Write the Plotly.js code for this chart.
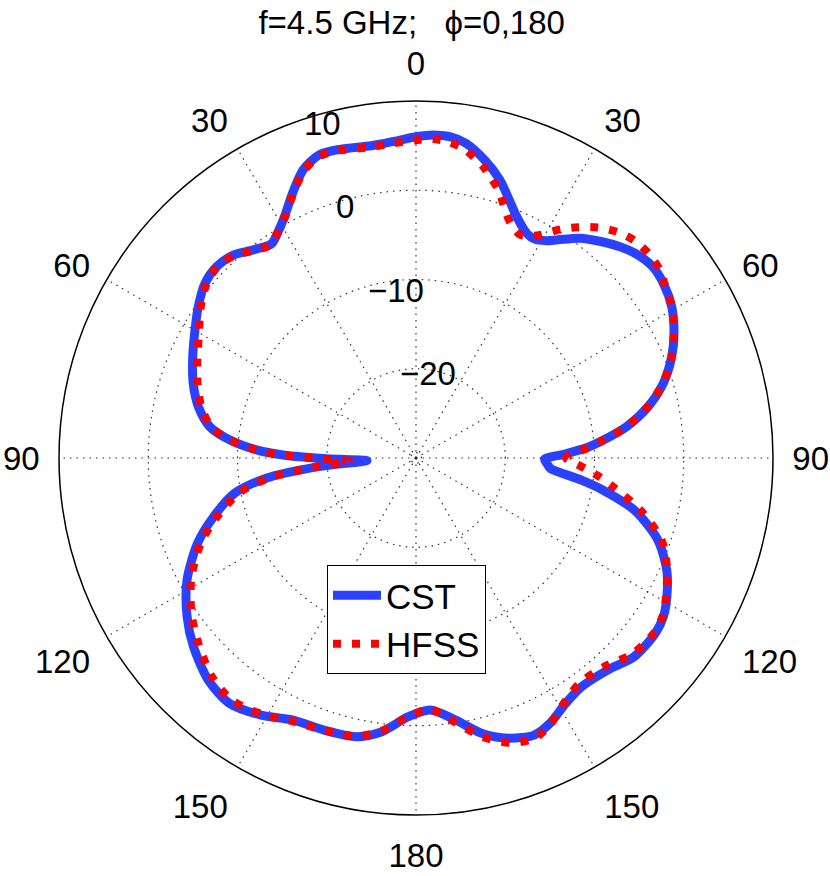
<!DOCTYPE html>
<html>
<head>
<meta charset="utf-8">
<script src="https://cdn.plot.ly/plotly-3.0.1.min.js"></script>
<style>
  html, body { margin: 0; padding: 0; background: #ffffff; }
  #chart { width: 830px; height: 876px; }
</style>
</head>
<body>
<div id="chart"></div>
<script>
// Angle (deg, clockwise from top; 180..360 = left half, labelled 150..30) and gain (dB)
const cstTheta = [0, 3, 6, 9, 13, 16.8, 19.5, 22.65, 26.2, 28.5, 31, 33, 36.7, 40.5, 44, 47.5, 51, 54.8, 59.4, 64.2, 68.4, 73.2, 77.5, 81.5, 84.5, 86.5, 88.5, 90.5, 92.5, 94.4, 97.6, 99.5, 103.4, 108.7, 114.1, 118.9, 122.5, 126.2, 132.3, 137.8, 144.1, 148.6, 153.2, 156.9, 161.8, 166.6, 171.4, 176.8, 181.7, 187.1, 192.2, 198.7, 205.3, 211.1, 217.3, 223.1, 229.7, 235.3, 242, 248.7, 253.8, 259, 262.3, 264.9, 267, 269.5, 271.3, 272.9, 275.5, 278.6, 283.3, 288.5, 294.4, 300.1, 304.8, 309.6, 313.8, 318, 322, 326, 328.4, 331.4, 335, 338.6, 342.2, 346.1, 351.8, 355.7, 360];
const cstGain  = [6.0, 6.25, 6.2, 5.7, 4.25, 2.54, 0.95, -0.7, -1.93, -2.1, -1.59, -0.85, 0.72, 1.9, 2.9, 3.7, 4.1, 3.93, 3.29, 2.11, 0.81, -1.06, -3.35, -6.13, -8.9, -10.8, -13.3, -15.6, -15.3, -14.9, -11.3, -9.0, -4.87, -1.4, 0.78, 2.11, 2.9, 3.23, 3.07, 2.04, 1.64, 2.2, 3.3, 3.75, 3.05, 1.71, -0.31, -1.72, -1.0, 0.9, 1.95, 2.18, 2.46, 3.64, 4.54, 4.07, 2.69, 1.2, -0.95, -3.74, -6.38, -9.28, -13.05, -19.05, -24.5, -20.0, -15.1, -12.1, -9.06, -6.65, -4.94, -3.68, -2.53, -1.38, -0.29, 0.69, 0.96, 0.6, -0.41, -1.05, -0.4, 0.79, 2.73, 4.67, 5.65, 5.63, 5.35, 5.54, 6.0];

const hfssTheta = [0, 3, 6, 9, 13, 14.7, 16.8, 18.9, 21, 23, 25, 27, 29.1, 32.2, 35.1, 38.2, 41.6, 44.9, 48.6, 52.4, 55, 59.4, 64.2, 68.4, 73.2, 77.5, 81.5, 84.5, 86.5, 88.5, 90, 93, 95.5, 98.3, 103.4, 108.7, 113.4, 118.9, 122.5, 126.2, 132.3, 137.8, 144.1, 148.6, 153.2, 157, 161.8, 166.6, 171.4, 176.8, 181.7, 187.1, 192.2, 198.7, 205.3, 211.1, 217.3, 223.1, 229.7, 235.3, 242, 248.7, 253.8, 259, 262.3, 264.9, 267, 269.5, 271.3, 272.9, 275.5, 278.6, 283.3, 288.5, 294.4, 300.1, 304.8, 309.6, 313.8, 318, 322, 325.6, 328.4, 331.4, 335, 338.6, 342.2, 346.1, 351.8, 355.7, 360];
const hfssGain  = [5.6, 5.8, 5.6, 5.0, 3.5, 2.6, 1.6, 0.16, -1.2, -2.0, -2.4, -2.1, -1.4, 0.28, 1.6, 2.87, 3.9, 4.5, 4.7, 4.5, 4.0, 3.3, 2.1, 0.8, -1.1, -3.4, -6.1, -8.9, -10.6, -12.4, -13.2, -11.4, -9.6, -7.7, -3.97, -0.9, 0.63, 2.0, 2.8, 3.1, 2.7, 1.5, 1.2, 2.0, 3.4, 4.1, 3.6, 2.1, 0.0, -1.8, -1.0, 0.8, 1.9, 2.2, 2.6, 3.5, 4.1, 3.5, 2.0, 0.6, -1.5, -4.2, -6.9, -9.9, -13.5, -18.5, -22.6, -19.5, -15.1, -12.1, -9.06, -6.8, -5.3, -4.2, -3.1, -1.9, -0.6, 0.5, 0.9, 0.5, -0.5, -1.1, -0.4, 0.7, 2.6, 4.5, 5.5, 5.5, 5.2, 5.35, 5.6];

const angTickVals = [0, 30, 60, 90, 120, 150, 180, 210, 240, 270, 300, 330];
const angTickText = ['0', '30', '60', '90', '120', '150', '180', '150', '120', '90', '60', '30'];
const radTickVals = [-29.4, -20, -10, 0, 10];
const radTickText = ['', '\u221220', '\u221210', '0', '10'];
const seriesNames = ['CST', 'HFSS'];
const titleText = 'f=4.5 GHz;\u00A0\u00A0\u00A0\u03D5=0,180';

const FONT = 'Liberation Sans, Arial, sans-serif';

const traces = [
  {
    type: 'scatterpolar', mode: 'lines', name: seriesNames[0],
    theta: cstTheta, r: cstGain,
    line: { color: '#2B41FF', width: 9, shape: 'spline', smoothing: 0.8 },
    hoverinfo: 'skip'
  },
  {
    type: 'scatterpolar', mode: 'lines', name: seriesNames[1],
    theta: hfssTheta, r: hfssGain,
    line: { color: '#FF0000', width: 8, dash: '8px,11px', shape: 'spline', smoothing: 0.8 },
    hoverinfo: 'skip'
  }
];

const layout = {
  width: 830, height: 876,
  margin: { l: 0, r: 0, t: 0, b: 0 },
  paper_bgcolor: '#ffffff',
  font: { family: FONT, color: '#000000' },
  title: {
    text: titleText,
    font: { family: FONT, size: 33, color: '#000000' },
    x: 0.496, xanchor: 'center', xref: 'paper',
    y: 0.974, yanchor: 'middle', yref: 'container'
  },
  showlegend: true,
  legend: {
    x: 327 / 830, y: 1 - 565 / 876, xanchor: 'left', yanchor: 'top',
    bgcolor: '#ffffff', bordercolor: '#000000', borderwidth: 1,
    font: { family: FONT, size: 35, color: '#000000' },
    itemwidth: 48, entrywidth: 120, entrywidthmode: 'pixels'
  },
  polar: {
    domain: { x: [(416 - 357) / 830, (416 + 357) / 830], y: [(876 - 815) / 876, (876 - 101) / 876] },
    bgcolor: '#ffffff',
    angularaxis: {
      rotation: 90, direction: 'clockwise',
      tickmode: 'array', tickvals: angTickVals, ticktext: angTickText,
      showline: true, linecolor: '#000000', linewidth: 1.5,
      showgrid: true, gridcolor: '#333333', gridwidth: 1.2, griddash: '1.5px,5px',
      ticks: 'outside', ticklen: 12, tickcolor: 'rgba(0,0,0,0)',
      tickfont: { family: FONT, size: 33, color: '#000000' }
    },
    radialaxis: {
      range: [-30, 10], angle: 111, side: 'clockwise', tickangle: 111,
      tickmode: 'array', tickvals: radTickVals, ticktext: radTickText,
      showline: false, ticks: '',
      showgrid: true, gridcolor: '#333333', gridwidth: 1.2, griddash: '1.5px,5px',
      tickfont: { family: FONT, size: 33, color: '#000000' }
    }
  }
};

Plotly.newPlot('chart', traces, layout, { staticPlot: true, displayModeBar: false });
</script>
</body>
</html>
